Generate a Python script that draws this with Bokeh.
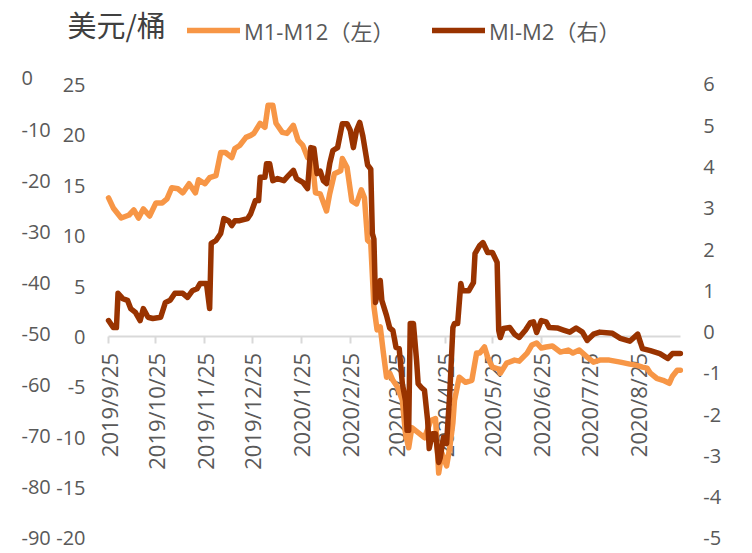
import math
from datetime import datetime, timedelta
import pandas as pd
from bokeh.plotting import figure
from bokeh.models import (Range1d, LinearAxis, FixedTicker, DatetimeTickFormatter,
                          Legend, LegendItem, Label, ColumnDataSource)
from bokeh.embed import file_html
from bokeh.resources import INLINE

# ---------------- data ----------------
title_text = "美元/桶"
series_names = ["M1-M12（左）", "MI-M2（右）"]

m1m12_dates = [
    "2019-09-25", "2019-09-28", "2019-10-03", "2019-10-08", "2019-10-11", "2019-10-14", "2019-10-17",
    "2019-10-21", "2019-10-25", "2019-10-29", "2019-11-01", "2019-11-04", "2019-11-08", "2019-11-11",
    "2019-11-15", "2019-11-19", "2019-11-21", "2019-11-25", "2019-11-28", "2019-12-02", "2019-12-05",
    "2019-12-08", "2019-12-12", "2019-12-14", "2019-12-17", "2019-12-21", "2019-12-24", "2019-12-26",
    "2019-12-30", "2020-01-02", "2020-01-04", "2020-01-07", "2020-01-09", "2020-01-13", "2020-01-16",
    "2020-01-20", "2020-01-23", "2020-01-26", "2020-01-29", "2020-02-01", "2020-02-03", "2020-02-06",
    "2020-02-10", "2020-02-12", "2020-02-15", "2020-02-19", "2020-02-20", "2020-02-23", "2020-02-26",
    "2020-02-29", "2020-03-03", "2020-03-05", "2020-03-07", "2020-03-09", "2020-03-11", "2020-03-13",
    "2020-03-15", "2020-03-17", "2020-03-19", "2020-03-21", "2020-03-23", "2020-03-26", "2020-03-29",
    "2020-03-31", "2020-04-02", "2020-04-04", "2020-04-08", "2020-04-12", "2020-04-16", "2020-04-19",
    "2020-04-21", "2020-04-23", "2020-04-26", "2020-04-28", "2020-04-30", "2020-05-01", "2020-05-04",
    "2020-05-08", "2020-05-12", "2020-05-15", "2020-05-17", "2020-05-20", "2020-05-22", "2020-05-25",
    "2020-05-29", "2020-05-30", "2020-06-03", "2020-06-08", "2020-06-11", "2020-06-16", "2020-06-19",
    "2020-06-22", "2020-06-25", "2020-06-28", "2020-07-02", "2020-07-07", "2020-07-12", "2020-07-15",
    "2020-07-19", "2020-07-24", "2020-07-28", "2020-08-01", "2020-08-07", "2020-08-14", "2020-08-20",
    "2020-08-24", "2020-08-28", "2020-08-31", "2020-09-02", "2020-09-06", "2020-09-10", "2020-09-14",
    "2020-09-16", "2020-09-19", "2020-09-21",
]
m1m12_values = [
    13.8, 12.8, 11.8, 12.1, 12.6, 11.8, 12.7,
    12.0, 13.3, 13.3, 13.7, 14.8, 14.7, 14.3,
    15.2, 14.3, 15.6, 15.2, 15.8, 16.0, 18.3,
    18.3, 17.8, 18.7, 19.0, 19.8, 20.0, 20.2,
    21.2, 20.8, 23.0, 23.0, 21.2, 20.3, 20.2,
    21.0, 19.5, 19.0, 17.8, 17.5, 14.3, 14.2,
    12.5, 14.2, 16.2, 16.5, 17.7, 16.8, 13.5,
    13.2, 14.6, 13.8, 9.6, 9.3, 3.0, 0.7,
    1.0, -1.6, -4.0, -3.6, -4.3, -5.0, -6.3,
    -9.6, -11.0, -9.0, -9.5, -10.0, -8.3, -8.1,
    -13.5, -11.5, -12.8, -11.0, -8.5, -6.3, -4.0,
    -4.5, -4.3, -1.6, -1.6, -1.0, -2.0, -3.0,
    -3.2, -3.6, -2.6, -2.3, -2.4, -1.6, -0.8,
    -0.6, -1.1, -1.0, -0.9, -1.5, -1.3, -1.6,
    -1.3, -2.0, -2.5, -2.3, -2.3, -2.5, -2.7,
    -2.8, -3.0, -3.1, -3.6, -4.1, -4.3, -4.6,
    -3.9, -3.3, -3.3,
]

m1m2_dates = [
    "2019-09-25", "2019-09-28", "2019-09-30", "2019-10-01", "2019-10-04", "2019-10-07", "2019-10-09",
    "2019-10-12", "2019-10-15", "2019-10-17", "2019-10-20", "2019-10-23", "2019-10-28", "2019-10-31",
    "2019-11-03", "2019-11-06", "2019-11-11", "2019-11-14", "2019-11-17", "2019-11-20", "2019-11-22",
    "2019-11-26", "2019-11-28", "2019-11-29", "2019-12-02", "2019-12-05", "2019-12-07", "2019-12-10",
    "2019-12-12", "2019-12-14", "2019-12-17", "2019-12-22", "2019-12-24", "2019-12-27", "2019-12-29",
    "2019-12-30", "2020-01-02", "2020-01-03", "2020-01-05", "2020-01-07", "2020-01-10", "2020-01-14",
    "2020-01-17", "2020-01-20", "2020-01-22", "2020-01-26", "2020-01-29", "2020-01-31", "2020-02-02",
    "2020-02-04", "2020-02-06", "2020-02-08", "2020-02-10", "2020-02-12", "2020-02-14", "2020-02-17",
    "2020-02-20", "2020-02-23", "2020-02-25", "2020-02-27", "2020-02-29", "2020-03-02", "2020-03-04",
    "2020-03-07", "2020-03-09", "2020-03-10", "2020-03-11", "2020-03-12", "2020-03-15", "2020-03-16",
    "2020-03-19", "2020-03-21", "2020-03-23", "2020-03-25", "2020-03-27", "2020-03-29", "2020-03-31",
    "2020-04-01", "2020-04-02", "2020-04-03", "2020-04-05", "2020-04-07", "2020-04-08", "2020-04-10",
    "2020-04-12", "2020-04-14", "2020-04-15", "2020-04-17", "2020-04-19", "2020-04-21", "2020-04-22",
    "2020-04-24", "2020-04-26", "2020-04-28", "2020-04-30", "2020-05-01", "2020-05-03", "2020-05-05",
    "2020-05-06", "2020-05-10", "2020-05-13", "2020-05-14", "2020-05-17", "2020-05-19", "2020-05-22",
    "2020-05-25", "2020-05-28", "2020-05-29", "2020-05-30", "2020-06-01", "2020-06-05", "2020-06-08",
    "2020-06-11", "2020-06-15", "2020-06-18", "2020-06-20", "2020-06-22", "2020-06-25", "2020-06-28",
    "2020-06-30", "2020-07-05", "2020-07-09", "2020-07-13", "2020-07-17", "2020-07-21", "2020-07-24",
    "2020-07-28", "2020-08-01", "2020-08-09", "2020-08-14", "2020-08-20", "2020-08-25", "2020-08-28",
    "2020-09-02", "2020-09-08", "2020-09-13", "2020-09-16", "2020-09-21",
]
m1m2_values = [
    0.28, 0.11, 0.11, 0.94, 0.81, 0.77, 0.57,
    0.48, 0.28, 0.57, 0.36, 0.33, 0.36, 0.72,
    0.77, 0.94, 0.94, 0.84, 1.00, 1.05, 1.18,
    1.18, 0.57, 2.15, 2.22, 2.39, 2.75, 2.70,
    2.58, 2.70, 2.70, 2.75, 2.87, 3.19, 3.19,
    3.75, 3.75, 4.08, 4.08, 3.67, 3.72, 3.67,
    3.80, 3.92, 3.72, 3.63, 3.48, 4.47, 4.45,
    3.84, 3.90, 3.67, 3.60, 4.08, 4.40, 4.47,
    5.05, 5.05, 4.89, 4.47, 4.89, 5.08, 4.75,
    4.05, 3.95, 2.39, 2.25, 0.72, 1.25, 0.77,
    0.40, 0.10, 0.04, -0.37, -0.40, -1.25, -1.66,
    -2.38, -2.38, 0.21, 0.21, -0.69, -1.25, -1.34,
    -1.41, -2.14, -2.82, -2.46, -2.46, -3.16, -3.04,
    -2.55, -2.70, -1.49, 0.11, 0.21, 0.21, 1.18,
    1.00, 1.00, 1.20, 1.90, 2.10, 2.17, 1.93,
    1.93, 1.69, 0.04, -0.13, 0.09, 0.11, -0.05,
    -0.13, 0.05, 0.23, 0.25, -0.01, 0.28, 0.25,
    0.11, 0.10, 0.05, 0.00, 0.10, 0.00, -0.20,
    -0.05, 0.00, -0.03, -0.15, -0.22, -0.05, -0.40,
    -0.45, -0.52, -0.64, -0.52, -0.52,
]

x_tick_dates = ["2019-09-25", "2019-10-25", "2019-11-25", "2019-12-25", "2020-01-25", "2020-02-25",
                "2020-03-25", "2020-04-25", "2020-05-25", "2020-06-25", "2020-07-25", "2020-08-25"]
left_ticks = [25, 20, 15, 10, 5, 0, -5, -10, -15, -20]
right_ticks = [6, 5, 4, 3, 2, 1, 0, -1, -2, -3, -4, -5]
ghost_ticks = [0, -10, -20, -30, -40, -50, -60, -70, -80, -90]

# ---------------- styling / layout ----------------
ORANGE = "#F79646"
BROWN = "#993300"
GREY_TXT = "#595959"
AXIS_GREY = "#D9D9D9"
FONT = "Open Sans"
CJK = "Open Sans, Noto Sans CJK SC"
W, H = 744, 552
LW = 5.5

axis_start = datetime(2019, 9, 25)
axis_end = datetime(2020, 9, 21)
# the frame spans the whole canvas; ranges are widened so the data area sits where it should
view_start = axis_start - timedelta(days=68.4)
view_end = axis_start + timedelta(days=402.6)


def ms(d):
    return pd.Timestamp(d).value / 1e6


src1 = ColumnDataSource(dict(date=pd.to_datetime(m1m12_dates), value=m1m12_values))
src2 = ColumnDataSource(dict(date=pd.to_datetime(m1m2_dates), value=m1m2_values))

p = figure(width=W, height=H, x_axis_type="datetime", output_backend="svg",
           toolbar_location=None,
           x_range=Range1d(view_start, view_end),
           y_range=Range1d(-21.39, 33.385),
           min_border=0, min_border_left=0, min_border_right=0,
           min_border_top=0, min_border_bottom=0)
p.extra_y_ranges = {"right": Range1d(-5.34, 8.035), "ghost": Range1d(-92.76, 15.26)}
p.outline_line_color = None
p.xgrid.visible = False
p.ygrid.visible = False

r1 = p.line(x="date", y="value", source=src1, line_color=ORANGE, line_width=LW,
            line_join="round", line_cap="round")
r2 = p.line(x="date", y="value", source=src2, line_color=BROWN, line_width=LW,
            line_join="round", line_cap="round", y_range_name="right")

# x axis crossing at left-axis value 0
xa = p.xaxis[0]
xa.fixed_location = 0
xa.bounds = (axis_start, axis_end)
xa.ticker = FixedTicker(ticks=[ms(d) for d in x_tick_dates], minor_ticks=[])
fmt = "%Y/%-m/%-d"
xa.formatter = DatetimeTickFormatter(days=fmt, months=fmt, years=fmt, hours=fmt, hourmin=fmt,
                                     minutes=fmt, minsec=fmt, seconds=fmt)
xa.major_label_orientation = math.pi / 2
xa.axis_line_color = AXIS_GREY
xa.axis_line_width = 2
xa.major_tick_line_color = AXIS_GREY
xa.major_tick_line_width = 2
xa.major_tick_out = 7
xa.major_tick_in = 0
xa.minor_tick_line_color = None
xa.major_label_standoff = 9
xa.major_label_text_font = FONT
xa.major_label_text_font_size = "22px"
xa.major_label_text_color = GREY_TXT
xa.level = "underlay"


def style_y(ax, ticks, standoff):
    ax.ticker = FixedTicker(ticks=ticks, minor_ticks=[])
    ax.major_label_overrides = {t: str(t) for t in ticks}
    ax.axis_line_color = None
    ax.major_tick_line_color = None
    ax.minor_tick_line_color = None
    ax.major_tick_out = 0
    ax.major_tick_in = 0
    ax.major_label_standoff = standoff
    ax.major_label_text_font = FONT
    ax.major_label_text_font_size = "20px"
    ax.major_label_text_color = GREY_TXT


ya = p.yaxis[0]
ya.fixed_location = ms(axis_start)
style_y(ya, left_ticks, 23)

# leftover scale at the far left (labels left-aligned)
ghost = LinearAxis(y_range_name="ghost", fixed_location=ms(view_start))
style_y(ghost, ghost_ticks, 21)
p.add_layout(ghost, "right")

ra = LinearAxis(y_range_name="right", fixed_location=ms(axis_end))
style_y(ra, right_ticks, 23)
p.add_layout(ra, "right")

# unit title
p.add_layout(Label(x=67, y=H - 23, x_units="screen", y_units="screen", text=title_text,
                   text_font="Noto Sans CJK SC", text_font_size="29px", text_color="#404040",
                   text_baseline="middle"))

# legend (one entry per box so each sits where the reference has it)
for name, rend, xoff in [(series_names[0], r1, 187), (series_names[1], r2, 432)]:
    lg = Legend(items=[LegendItem(label=name, renderers=[rend])], location=(xoff, H - 46),
                glyph_width=53, glyph_height=20, label_height=20, label_standoff=4, padding=0,
                margin=0, spacing=0, border_line_color=None, background_fill_alpha=0,
                label_text_font=CJK, label_text_font_size="22px", label_text_color=GREY_TXT)
    p.add_layout(lg, "center")

open("out.html", "w").write(file_html(p, INLINE))
